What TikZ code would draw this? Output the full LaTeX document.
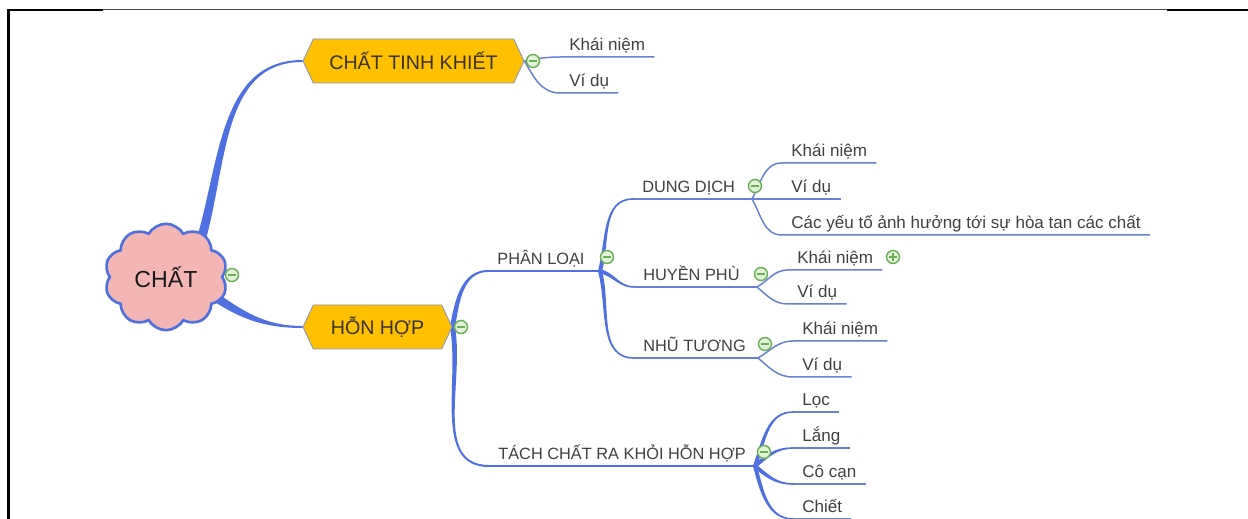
\documentclass[tikz,border=0pt]{standalone}
\usepackage{fontspec}
\setmainfont{Liberation Sans}
\usetikzlibrary{shapes, calc, backgrounds}

\definecolor{limbblue}{RGB}{78,112,224}
\definecolor{twigblue}{RGB}{104,128,216}
\definecolor{amber}{RGB}{255,192,0}
\definecolor{rose}{RGB}{244,182,180}
\definecolor{foldgreen}{RGB}{104,176,84}
\definecolor{foldfill}{RGB}{228,242,218}
\definecolor{inkgray}{RGB}{64,64,64}
\definecolor{platetext}{RGB}{60,50,30}
\definecolor{plateedge}{RGB}{140,150,190}

% tapered branch: from, to, out, in, half width at start, half width at end
\newcommand\limb[6]{%
  \fill[limbblue] ($(#1)+(#3+90:#5)$) to[out=#3,in=#4] ($(#2)+(#4-90:#6)$)
    -- ($(#2)+(#4+90:#6)$) to[out=#4,in=#3] ($(#1)+(#3-90:#5)$) -- cycle;}

\begin{document}
\begin{tikzpicture}[x=0.02cm, y=0.02cm]

\tikzstyle{cloudy} = [cloud, cloud puffs=10, cloud puff arc=120, aspect=1.15, draw=limbblue, line width=1.5pt, fill=rose, minimum width=2.46cm, minimum height=2.06cm, font=\fontsize{13.2}{15}\selectfont, text=black!90]
\tikzstyle{plate} = [signal, signal to=east and west, signal pointer angle=130, draw=plateedge, line width=0.5pt, fill=amber, minimum height=0.88cm, font=\fontsize{11.2}{13}\selectfont, text=platetext]
\tikzstyle{sort} = [anchor=south west, inner xsep=0.18cm, inner ysep=0.12cm, text depth=0pt, font=\fontsize{9.3}{11}\selectfont, text=inkgray]
\tikzstyle{leaf} = [anchor=south west, inner xsep=0.18cm, inner ysep=0.12cm, text depth=0pt, font=\fontsize{9.7}{11}\selectfont, text=inkgray]
\tikzstyle{bough} = [draw=limbblue, line width=1.1pt]
\tikzstyle{twig} = [draw=twigblue, line width=0.85pt]
\tikzstyle{fold} = [circle, draw=foldgreen, fill=foldfill, line width=0.8pt, minimum size=0.26cm, inner sep=0pt, path picture={\draw[foldgreen, line width=1pt] ([xshift=1.6pt]path picture bounding box.west) -- ([xshift=-1.6pt]path picture bounding box.east);}]
\tikzstyle{unfold} = [fold, path picture={\draw[foldgreen, line width=1pt] ([xshift=1.6pt]path picture bounding box.west) -- ([xshift=-1.6pt]path picture bounding box.east) ([yshift=1.6pt]path picture bounding box.south) -- ([yshift=-1.6pt]path picture bounding box.north);}]

\useasboundingbox (0,0) rectangle (1248,-519);

% frame
\draw[line width=1.2pt] (8.5,-519) -- (8.5,-10.3) -- (103,-10.3);
\draw[black!70, line width=0.6pt] (103,-9.7) -- (1167,-9.7);
\draw[line width=1.2pt] (1167,-10.3) -- (1248,-10.3);

% main topics
\node[cloudy] (chat) at (166,-277) {CHẤT};
\node[plate, minimum width=4.42cm] (tinhkhiet) at (413.5,-61) {CHẤT TINH KHIẾT};
\node[plate, minimum width=2.98cm] (honhop) at (377.5,-327) {HỖN HỢP};

% sub topics
\node[sort] (phanloai) at (488,-271) {PHÂN LOẠI};
\node[sort] (dungdich) at (633,-199) {DUNG DỊCH};
\node[sort] (huyenphu) at (634,-287) {HUYỀN PHÙ};
\node[sort] (nhutuong) at (634,-358) {NHŨ TƯƠNG};
\node[sort] (tachchat) at (489,-466) {TÁCH CHẤT RA KHỎI HỖN HỢP};

\coordinate (chat-up) at ($(chat)+(32,27)$);
\coordinate (chat-down) at ($(chat)+(39,-13)$);
\coordinate (plhub) at (600,-271);
\coordinate (ddhub) at (752,-199);
\coordinate (hphub) at (757,-287);
\coordinate (nthub) at (758,-358);
\coordinate (tchub) at (755,-466);

% leaves
\node[leaf] (tk1) at (560,-57) {Khái niệm};
\node[leaf] (tk2) at (560,-93) {Ví dụ};
\node[leaf] (dd1) at (782,-163) {Khái niệm};
\node[leaf] (dd2) at (782,-199) {Ví dụ};
\node[leaf] (dd3) at (782,-235) {Các yếu tố ảnh hưởng tới sự hòa tan các chất};
\node[leaf] (hp1) at (788,-270) {Khái niệm};
\node[leaf] (hp2) at (788,-304) {Ví dụ};
\node[leaf] (nt1) at (793,-341) {Khái niệm};
\node[leaf] (nt2) at (793,-377) {Ví dụ};
\node[leaf] (loc) at (793,-412) {Lọc};
\node[leaf] (lang) at (793,-448) {Lắng};
\node[leaf] (cocan) at (793,-484) {Cô cạn};
\node[leaf] (chiet) at (793,-519) {Chiết};

\begin{scope}[on background layer]
  \limb{chat-up}{tinhkhiet.west}{72}{180}{4.5}{1}
  \limb{chat-down}{honhop.west}{-35}{180}{4.5}{1}
  \limb{honhop.east}{phanloai.south west}{80}{180}{2.5}{1}
  \limb{honhop.east}{tachchat.south west}{-80}{180}{2.5}{1}
  \limb{plhub}{dungdich.south west}{75}{180}{2}{0.8}
  \limb{plhub}{huyenphu.south west}{-15}{180}{2}{0.8}
  \limb{plhub}{nhutuong.south west}{-75}{180}{2}{0.8}
  \limb{tchub}{loc.south west}{70}{180}{2}{0.8}
  \limb{tchub}{lang.south west}{40}{180}{2}{0.8}
  \limb{tchub}{cocan.south west}{-40}{180}{2}{0.8}
  \limb{tchub}{chiet.south west}{-75}{180}{2}{0.8}

  \draw[bough] (phanloai.south west) -- (plhub);
  \draw[bough] (tachchat.south west) -- (tchub);
  \draw[twig] (dungdich.south west) -- (ddhub);
  \draw[twig] (huyenphu.south west) -- (hphub);
  \draw[twig] (nhutuong.south west) -- (nthub);

  \draw[twig] (tinhkhiet.east) to[out=10,in=180] (tk1.south west) -- (tk1.south east);
  \draw[twig] (tinhkhiet.east) to[out=-60,in=180] (tk2.south west) -- (tk2.south east);
  \draw[twig] (ddhub) to[out=60,in=180] (dd1.south west) -- (dd1.south east);
  \draw[twig] (ddhub) -- (dd2.south west) -- (dd2.south east);
  \draw[twig] (ddhub) to[out=-60,in=180] (dd3.south west) -- (dd3.south east);
  \draw[twig] (hphub) to[out=30,in=180] (hp1.south west) -- (hp1.south east);
  \draw[twig] (hphub) to[out=-40,in=180] (hp2.south west) -- (hp2.south east);
  \draw[twig] (nthub) to[out=30,in=180] (nt1.south west) -- (nt1.south east);
  \draw[twig] (nthub) to[out=-40,in=180] (nt2.south west) -- (nt2.south east);
  \draw[twig] (loc.south west) -- (loc.south east);
  \draw[twig] (lang.south west) -- (lang.south east);
  \draw[twig] (cocan.south west) -- (cocan.south east);
  \draw[twig] (chiet.south west) -- (chiet.south east);
\end{scope}

% collapse markers
\node[fold] (m-chat) at (232,-275) {};
\node[fold] (m-tk) at (533,-61) {};
\node[fold] (m-hh) at (461,-327) {};
\node[fold] (m-pl) at (607,-257) {};
\node[fold] (m-dd) at (755,-186) {};
\node[fold] (m-hp) at (761,-274) {};
\node[fold] (m-nt) at (765,-344) {};
\node[fold] (m-tc) at (764,-452) {};
\node[unfold] (m-hp1) at (893,-257) {};

\end{tikzpicture}
\end{document}
